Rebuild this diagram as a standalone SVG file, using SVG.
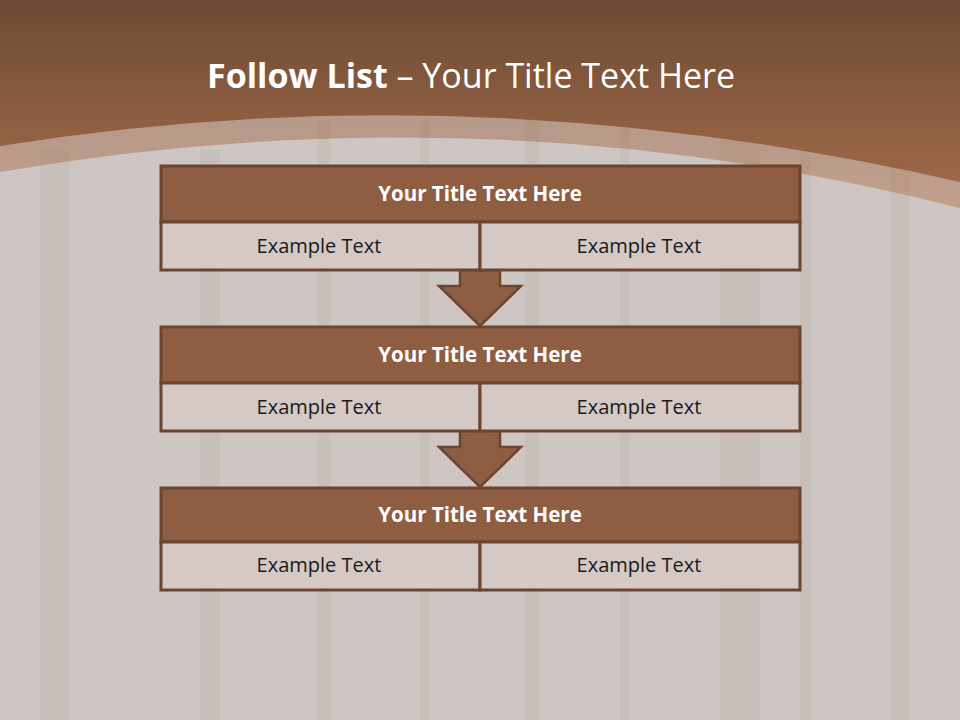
<svg xmlns="http://www.w3.org/2000/svg" width="960" height="720" viewBox="0 0 960 720">
<defs>
<linearGradient id="hdr" gradientUnits="userSpaceOnUse" x1="0" y1="0" x2="0" y2="200">
<stop offset="0" stop-color="#6c4a33"/>
<stop offset="1" stop-color="#a36b4b"/>
</linearGradient>
<style>
.t{fill:#8f5d42;stroke:#6b4530;stroke-width:3}
.c{fill:#d4c9c4;stroke:#6b4530;stroke-width:3}
.ar{fill:#8f5d42;stroke:#6b4530;stroke-width:2.5;stroke-linejoin:miter}
.tt{font-family:"Open Sans","Liberation Sans",sans-serif;font-weight:bold;font-size:20.5px;fill:#ffffff;text-anchor:middle}
.et{font-family:"Open Sans","Liberation Sans",sans-serif;font-size:20px;fill:#1a1a1a;text-anchor:middle}
.stripe{fill:#8a5030;opacity:0.05}
</style>
</defs>
<rect x="0" y="0" width="960" height="720" fill="url(#hdr)"/>
<path d="M0,146 Q470,70 960,182 L960,720 L0,720 Z" fill="#d8cbc4" opacity="0.55"/>
<path d="M0,172 Q490,88 960,208 L960,720 L0,720 Z" fill="#cdc6c2"/>
<g id="wood">
<rect class="stripe" x="40" y="150" width="30" height="570"/>
<rect class="stripe" x="200" y="150" width="20" height="570"/>
<rect class="stripe" x="318" y="120" width="12" height="600"/>
<rect class="stripe" x="420" y="120" width="10" height="600"/>
<rect class="stripe" x="525" y="120" width="14" height="600"/>
<rect class="stripe" x="620" y="120" width="10" height="600"/>
<rect class="stripe" x="720" y="140" width="40" height="580"/>
<rect class="stripe" x="800" y="150" width="10" height="570"/>
<rect class="stripe" x="890" y="160" width="20" height="560"/>
</g>
<text x="471" y="88" font-family="'Open Sans','Liberation Sans',sans-serif" font-size="34" fill="#ffffff" text-anchor="middle"><tspan font-weight="bold">Follow List</tspan><tspan>  – Your Title Text Here</tspan></text>
<g id="connectors">
<path class="ar" d="M460,270 L500,270 L500,286 L521,286 L480,326 L439,286 L460,286 Z"/>
<path class="ar" d="M460,431 L500,431 L500,447 L521,447 L480,487 L439,447 L460,447 Z"/>
</g>
<g id="node1">
<rect class="t" x="161" y="166" width="639" height="56"/>
<rect class="c" x="161" y="222" width="319" height="48"/>
<rect class="c" x="480" y="222" width="320" height="48"/>
<text class="tt" x="480" y="201">Your Title Text Here</text>
<text class="et" x="319" y="253">Example Text</text>
<text class="et" x="639" y="253">Example Text</text>
</g>
<g id="node2">
<rect class="t" x="161" y="327" width="639" height="56"/>
<rect class="c" x="161" y="383" width="319" height="48"/>
<rect class="c" x="480" y="383" width="320" height="48"/>
<text class="tt" x="480" y="362">Your Title Text Here</text>
<text class="et" x="319" y="414">Example Text</text>
<text class="et" x="639" y="414">Example Text</text>
</g>
<g id="node3">
<rect class="t" x="161" y="488" width="639" height="54"/>
<rect class="c" x="161" y="542" width="319" height="48"/>
<rect class="c" x="480" y="542" width="320" height="48"/>
<text class="tt" x="480" y="522">Your Title Text Here</text>
<text class="et" x="319" y="572">Example Text</text>
<text class="et" x="639" y="572">Example Text</text>
</g>
</svg>
